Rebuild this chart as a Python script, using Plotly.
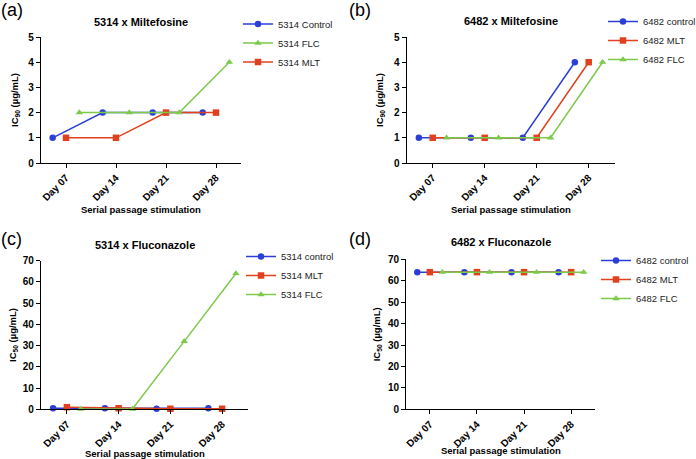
import plotly.graph_objects as go

days = ["Day 07", "Day 14", "Day 21", "Day 28"]

# (a) 5314 x Miltefosine (IC90)
a_control = [1, 2, 2, 2]
a_mlt = [1, 1, 2, 2]
a_flc = [2, 2, 2, 4]
# (b) 6482 x Miltefosine (IC90)
b_control = [1, 1, 1, 4]
b_mlt = [1, 1, 1, 4]
b_flc = [1, 1, 1, 4]
# (c) 5314 x Fluconazole (IC50)
c_control = [0.5, 0.5, 0.25, 0.5]
c_mlt = [1, 0.5, 0.25, 0.25]
c_flc = [0.125, 0.125, 32, 64]
# (d) 6482 x Fluconazole (IC50)
d_control = [64, 64, 64, 64]
d_mlt = [64, 64, 64, 64]
d_flc = [64, 64, 64, 64]

BLUE = "#2b3fd6"
RED = "#e0401e"
GREEN = "#7dc94a"
FONT = "Liberation Sans, Arial, sans-serif"

W, H = 696, 459

def px_x(x):
    return x / W

def px_y(y):
    return 1 - y / H

panels = [
    dict(key="a", label="(a)", title="5314 x Miltefosine", ytitle="IC<sub>90</sub> (µg/mL)",
         series=[("5314 Control", a_control, BLUE, "circle", 1),
                 ("5314 MLT", a_mlt, RED, "square", 3),
                 ("5314 FLC", a_flc, GREEN, "triangle-up", 2)],
         xd=(41, 241), yd=(163, 37), yr=[0, 5], dt=1, leg=(238, 9.5), ytx=15, xtt=209, tt=22, lab=(-1, -2)),
    dict(key="b", label="(b)", title="6482 x Miltefosine", ytitle="IC<sub>90</sub> (µg/mL)",
         series=[("6482 control", b_control, BLUE, "circle", 1),
                 ("6482 MLT", b_mlt, RED, "square", 2),
                 ("6482 FLC", b_flc, GREEN, "triangle-up", 3)],
         xd=(406.7, 614.7), yd=(163, 37), yr=[0, 5], dt=1, leg=(603, 7), ytx=380, xtt=209, tt=21, lab=(347, -2)),
    dict(key="c", label="(c)", title="5314 x Fluconazole", ytitle="IC<sub>50</sub> (µg/mL)",
         series=[("5314 control", c_control, BLUE, "circle", 1),
                 ("5314 MLT", c_mlt, RED, "square", 2),
                 ("5314 FLC", c_flc, GREEN, "triangle-up", 3)],
         xd=(41, 248), yd=(409.3, 260.7), yr=[0, 70], dt=10, leg=(241, 242), ytx=13, xtt=453, tt=245, lab=(-1, 227)),
    dict(key="d", label="(d)", title="6482 x Fluconazole", ytitle="IC<sub>50</sub> (µg/mL)",
         series=[("6482 control", d_control, BLUE, "circle", 1),
                 ("6482 MLT", d_mlt, RED, "square", 2),
                 ("6482 FLC", d_flc, GREEN, "triangle-up", 3)],
         xd=(406.3, 594.7), yd=(409.3, 259.3), yr=[0, 70], dt=10, leg=(596, 246), ytx=377, xtt=450, tt=242, lab=(347, 227)),
]

fig = go.Figure()
annotations = []
layout = {}

for i, p in enumerate(panels):
    n = "" if i == 0 else str(i + 1)
    xa, ya = "x" + n, "y" + n
    leg = "legend" + n
    for name, vals, color, sym, rank in p["series"]:
        fig.add_trace(go.Scatter(
            x=days, y=vals, name=name, mode="lines+markers",
            xaxis=xa, yaxis=ya, legend=leg, legendrank=rank,
            offsetgroup=p["key"] + name,
            line=dict(color=color, width=1.5),
            marker=dict(color=color, symbol=sym, size=6.5),
            cliponaxis=False,
        ))
    axfont = dict(family=FONT, size=10, color="black", weight="bold")
    layout["xaxis" + n] = dict(
        domain=[px_x(p["xd"][0]), px_x(p["xd"][1])], anchor=ya,
        type="category", categoryorder="array", categoryarray=days,
        range=[-0.5, 3.5], showgrid=False, zeroline=False,
        showline=True, linecolor="black", linewidth=1.3,
        ticks="outside", ticklen=4, tickwidth=1.3, tickcolor="black",
        tickangle=-45, tickfont=axfont, automargin=False,
    )
    layout["yaxis" + n] = dict(
        domain=[px_y(p["yd"][0]), px_y(p["yd"][1])], anchor=xa,
        range=p["yr"], dtick=p["dt"], tick0=0, showgrid=False, zeroline=False,
        showline=True, linecolor="black", linewidth=1.3,
        ticks="outside", ticklen=4, tickwidth=1.3, tickcolor="black",
        tickfont=axfont, automargin=False,
    )
    layout[leg] = dict(
        x=px_x(p["leg"][0]), y=px_y(p["leg"][1]), xanchor="left", yanchor="top",
        font=dict(family=FONT, size=9.5, color="#222"), bgcolor="rgba(0,0,0,0)",
        itemwidth=30, tracegroupgap=0, traceorder="normal",
    )
    xc = (p["xd"][0] + p["xd"][1]) / 2
    annotations += [
        dict(text=p["label"], x=px_x(p["lab"][0]), y=px_y(p["lab"][1]), xref="paper", yref="paper",
             xanchor="left", yanchor="top", showarrow=False,
             font=dict(family=FONT, size=18, color="black")),
        dict(text=p["title"], x=px_x(xc), y=px_y(p["tt"]), xref="paper", yref="paper",
             xanchor="center", yanchor="middle", showarrow=False,
             font=dict(family=FONT, size=11, color="black", weight="bold")),
        dict(text="Serial passage stimulation", x=px_x(xc), y=px_y(p["xtt"]), xref="paper", yref="paper",
             xanchor="center", yanchor="middle", showarrow=False,
             font=dict(family=FONT, size=9.5, color="black", weight="bold")),
        dict(text=p["ytitle"], x=px_x(p["ytx"]), y=px_y((p["yd"][0] + p["yd"][1]) / 2),
             xref="paper", yref="paper", xanchor="center", yanchor="middle", textangle=-90,
             showarrow=False, font=dict(family=FONT, size=9.5, color="black", weight="bold")),
    ]

fig.update_layout(
    width=W, height=H, margin=dict(l=0, r=0, t=0, b=0, pad=0, autoexpand=False),
    paper_bgcolor="white", plot_bgcolor="white",
    scattermode="group", scattergap=0.2,
    annotations=annotations, showlegend=True,
    **layout,
)

fig.write_html(
    "out.html",
    config={"displayModeBar": False},
    post_script="document.body.style.margin='0';document.body.style.overflow='hidden';",
)
